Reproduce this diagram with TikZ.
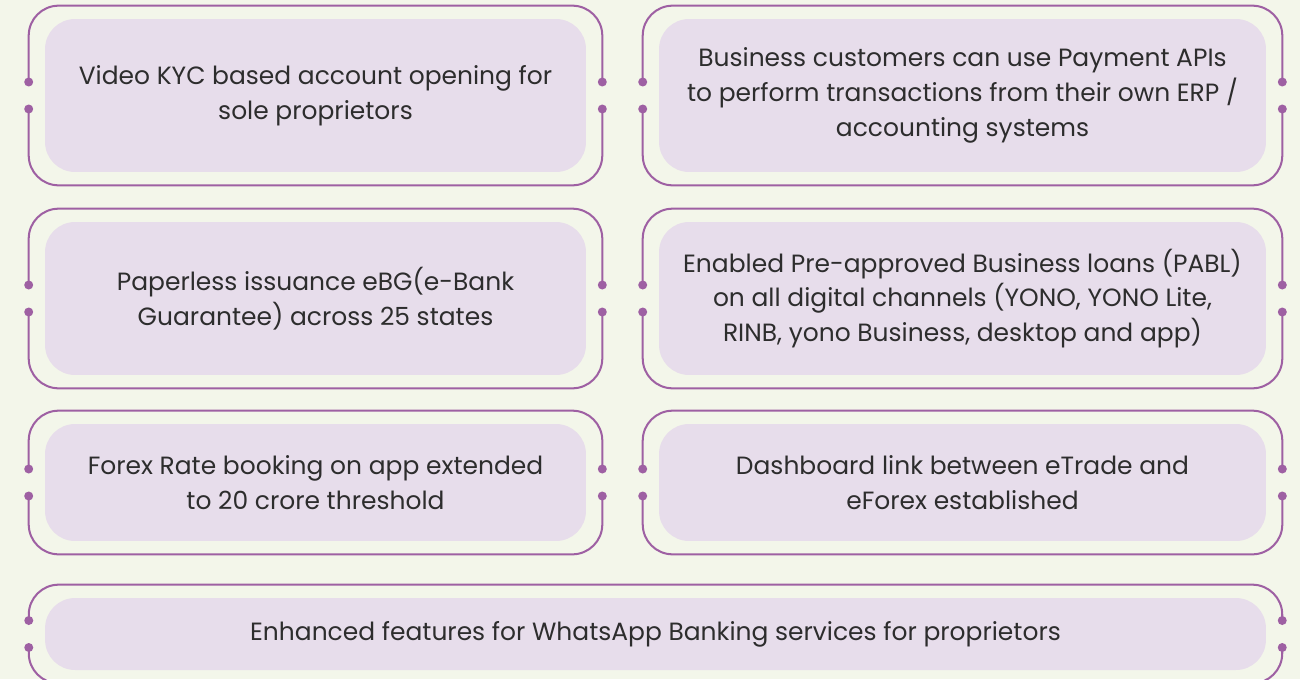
\documentclass[tikz,border=0pt]{standalone}
\usepackage{fontspec}
\setmainfont{Poppins}
\definecolor{pagebg}{RGB}{243,246,234}
\definecolor{plum}{RGB}{158,96,163}
\definecolor{lilac}{RGB}{231,221,235}
\definecolor{ink}{RGB}{45,45,45}
\usetikzlibrary{calc}

\tikzset{
  card/.style={fill=lilac, rounded corners=0.6cm, inner sep=0pt, align=center,
    text=ink, font=\fontsize{14.2}{19.8}\selectfont},
  rim/.style={plum, line width=1.15pt, rounded corners=0.6cm},
}

% frame with a notch on each side
\newcommand{\notchrim}[1]{%
  \draw[rim] ($(#1.west)+(-16,-13.5)$) |- ($(#1.north)+(0,-13)$) -| ($(#1.east)+(16,-13.5)$);
  \draw[rim] ($(#1.west)+(-16,13.5)$) |- ($(#1.south)+(0,13)$) -| ($(#1.east)+(16,13.5)$);
  \foreach \dy in {-13.5,13.5} {
    \fill[plum] ($(#1.west)+(-16,\dy)$) circle (0.09cm);
    \fill[plum] ($(#1.east)+(16,\dy)$) circle (0.09cm);
  }
}

\begin{document}
\begin{tikzpicture}[x=0.02cm, y=-0.02cm]
    \clip (0,0) rectangle (1300,679);
    \fill[pagebg] (0,0) rectangle (1300,679);

    % Row 1
    \node[card, minimum width=10.82cm, minimum height=3.06cm] (kyc) at (315.5,95.5)
        {Video KYC based account opening for\\sole proprietors};
    \node[card, minimum width=12.14cm, minimum height=3.06cm] (api) at (962.5,95.5)
        {Business customers can use Payment APIs\\to perform transactions from their own ERP /\\accounting systems};

    % Row 2
    \node[card, minimum width=10.82cm, minimum height=3.06cm] (ebg) at (315.5,298.5)
        {Paperless issuance eBG(e-Bank\\Guarantee) across 25 states};
    \node[card, minimum width=12.14cm, minimum height=3.06cm] (pabl) at (962.5,298.5)
        {Enabled Pre-approved Business loans (PABL)\\on all digital channels (YONO, YONO Lite,\\RINB, yono Business, desktop and app)};

    % Row 3
    \node[card, minimum width=10.82cm, minimum height=2.34cm] (forex) at (315.5,482.5)
        {Forex Rate booking on app extended\\to 20 crore threshold};
    \node[card, minimum width=12.14cm, minimum height=2.34cm] (dash) at (962.5,482.5)
        {Dashboard link between eTrade and\\eForex established};

    % Row 4
    \node[card, minimum width=24.42cm, minimum height=1.44cm] (chat) at (655.5,634)
        {Enhanced features for WhatsApp Banking services for proprietors};

    % Frames
    \foreach \n in {kyc,api,ebg,pabl,forex,dash,chat} {
        \notchrim{\n}
    }
\end{tikzpicture}
\end{document}
